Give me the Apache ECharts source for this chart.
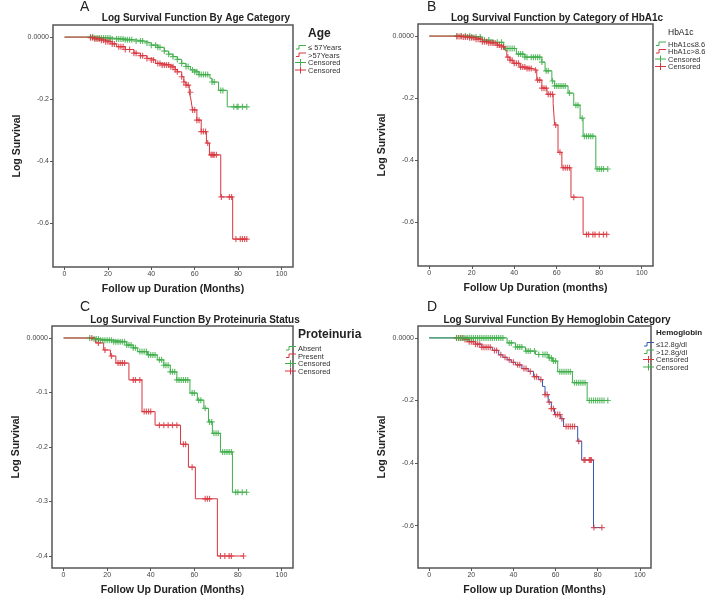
<!DOCTYPE html>
<html>
<head>
<meta charset="utf-8">
<script src="https://cdn.jsdelivr.net/npm/echarts@6/dist/echarts.min.js"></script>
<style>
  html, body { margin: 0; padding: 0; background: #fff; }
  #chart { width: 707px; height: 599px; }
</style>
</head>
<body>
<div id="chart"></div>
<script>
// step curves: [month, log survival after the drop]
const ageLow = [[0,0],[14,-0.003],[22,-0.006],[28,-0.009],[33,-0.013],[37,-0.019],[40,-0.026],[43,-0.033],[46,-0.045],[48,-0.055],[50,-0.063],[52,-0.072],[54,-0.085],[56,-0.095],[58,-0.106],[60,-0.112],[62,-0.121],[67,-0.133],[68,-0.145],[71,-0.172],[75,-0.225],[84,-0.225]];
const ageHigh = [[0,0],[12,-0.002],[14,-0.006],[17,-0.010],[19,-0.015],[22,-0.022],[24,-0.031],[28,-0.040],[32,-0.052],[35,-0.060],[38,-0.069],[40,-0.074],[42,-0.085],[45,-0.090],[49,-0.096],[51,-0.105],[52,-0.112],[54,-0.128],[55,-0.145],[56,-0.155],[57.5,-0.178],[58.3,-0.203],[59,-0.235],[61,-0.268],[63,-0.305],[65.4,-0.342],[66.8,-0.38],[72,-0.516],[77.5,-0.652],[84,-0.652]];
const ageLowCens = [12,13,14,15,16,17,18,19,20,21,22,24,25,26,27,28,29,30,31,33,35,36,38,40,42,43,44,46,48,50,52,54,56,57,59,60,61,62,63,64,65,66,68,69,72,73,78,79.5,80,82,84];
const ageHighCens = [12,13,14,15,16,17,18,19,20,21,22,23,25,26,27,28,30,32,33,35,36,38,40,41,43,44,45,46,47,48,49,50,51,52,54,55,56,57,58,59,60,61,62,63,64,65,66,67.5,68,68.5,69,70,72.3,76,77,79,81,82,83,84];

const hbaLow = [[0,0],[20,-0.003],[25,-0.013],[30,-0.020],[35,-0.040],[41,-0.058],[45,-0.068],[53,-0.084],[54.5,-0.112],[57.7,-0.145],[59,-0.161],[65.3,-0.184],[68,-0.223],[71,-0.265],[72.4,-0.323],[78.4,-0.429],[84,-0.429]];
const hbaHigh = [[0,0],[13,-0.001],[16,-0.003],[19,-0.005],[22,-0.010],[25,-0.018],[28,-0.022],[32,-0.029],[34,-0.035],[35.5,-0.045],[36.5,-0.068],[38,-0.078],[39.5,-0.088],[42.7,-0.100],[46,-0.105],[49,-0.110],[50.6,-0.142],[53,-0.168],[55.4,-0.188],[58.3,-0.217],[59,-0.287],[60.6,-0.375],[62.4,-0.425],[66.7,-0.52],[72.4,-0.64],[83.5,-0.64]];
const hbaLowCens = [13,15,17,19,20,22,24,26,28,30,32,34,36,37,38,39,40,42,43,44,45,46,48,49,50,51,52,53,55,56,58,59,60,61,62,63,64,66,69,70,72,73,74,75,76,77,79,80,81,82,84];
const hbaHighCens = [13,14,15,16,17,18,19,20,21,22,23,24,25,26,27,28,29,30,31,32,33,34,35,37,38,39,40,41,42,43,44,45,46,47,48,50,51,52,53,54,55,56,57,58,59.5,61.5,63,64,65,66,68,74,75,77,78,80,82,83.5];

const protAbsent = [[0,0],[14,-0.002],[17,-0.004],[23,-0.007],[29,-0.013],[32,-0.018],[34,-0.025],[38.5,-0.031],[43,-0.040],[46,-0.050],[49,-0.062],[52,-0.077],[58,-0.101],[61.4,-0.114],[64.4,-0.129],[66.5,-0.154],[68.3,-0.175],[72,-0.209],[77.5,-0.283],[84,-0.283]];
const protPresent = [[0,0],[14.7,-0.009],[18.4,-0.022],[21.5,-0.033],[24,-0.046],[30,-0.077],[36,-0.135],[42,-0.16],[53.7,-0.195],[57.3,-0.237],[60.5,-0.295],[70.6,-0.4],[82.6,-0.4]];
const protAbsentCens = [12,14,15,16,17,18,19,20,21,22,23,24,25,26,27,28,29,30,31,32,33,35,36,37,38,39,40,41,42,44,45,46,47,48,49,50,51,52,53,54,55,56,57,59,60,62,63,65,67,68,69,70,71,73,74,75,76,77,79,80,82,84];
const protPresentCens = [13,16,19,22,25,26,27,28,32,33,35,37,38,39,40,44,46,48,50,52,55,56,59,65,66,67,72,74,76,77,82.6];

const hbLow = [[0,0],[17,-0.005],[19,-0.012],[22,-0.02],[25,-0.03],[30,-0.04],[33,-0.054],[35,-0.062],[37,-0.07],[39,-0.078],[41,-0.086],[44,-0.098],[47,-0.107],[49.5,-0.124],[52,-0.133],[53.8,-0.155],[55,-0.181],[56.5,-0.205],[58,-0.226],[59.5,-0.245],[62.4,-0.258],[63.8,-0.283],[70.5,-0.33],[72.4,-0.39],[78,-0.606],[82,-0.606]];
const hbHigh = [[0,0],[37,-0.016],[41,-0.029],[45.7,-0.042],[50.5,-0.053],[56.7,-0.064],[58.6,-0.074],[61,-0.108],[68,-0.143],[75,-0.2],[84.8,-0.2]];
const hbLowCens = [13,14,15,16,17,18,19,20,21,22,23,24,25,26,27,28,29,31,32,34,36,38,40,42,43,45,46,48,50,51,53,55,56,57,58,59,60,61,62,63,65,66,67,68,69,71,73.5,74,76,76.5,77,78.2,82];
const hbHighCens = [13,14,15,16,17,18,19,20,21,22,23,24,25,26,27,28,29,30,31,32,33,34,35,38,39,41,42,43,44,46,47,48,50,52,54,55,56,57,58,59,60,62,63,64,65,66,67,69,70,71,72,73,74,76,77,78,79,80,81,82,83,84.8];

const xTicks = [0, 20, 40, 60, 80, 100];
const yTicksWide = [0, -0.2, -0.4, -0.6];
const yTicksNarrow = [0, -0.1, -0.2, -0.3, -0.4];

const GREEN = '#3fae4a';
const RED = '#d8353d';
const BLUE = '#3557b0';
const FONT = 'Liberation Sans';
const PLUS = 'path://M0,4H10V6H0Z M4,0H6V10H4Z';

// y of the step curve at time t
function stepAt(steps, t) {
    let v = steps[0][1];
    for (const p of steps) { if (p[0] <= t) v = p[1]; }
    return v;
}

const grids = [
    { left: 53, top: 25, width: 240, height: 242 },
    { left: 418, top: 24, width: 235, height: 242 },
    { left: 52, top: 326, width: 241, height: 242 },
    { left: 418, top: 326, width: 233, height: 242 }
];
const xNames = ['Follow up Duration (Months)', 'Follow Up Duration (months)', 'Follow Up Duration (Months)', 'Follow up Duration (Months)'];
const yRanges = [[-0.742, 0.039], [-0.742, 0.039], [-0.422, 0.022], [-0.735, 0.038]];
const yTicks = [yTicksWide, yTicksWide, yTicksNarrow, yTicksWide];

const xAxis = grids.map((g, i) => ({
    gridIndex: i, type: 'value', min: -5.3, max: 105.3, position: 'bottom',
    name: xNames[i], nameLocation: 'middle', nameGap: 17,
    nameTextStyle: { fontFamily: FONT, fontWeight: 'bold', fontSize: 10.5, color: '#222' },
    axisLine: { show: false, onZero: false },
    axisTick: { show: true, customValues: xTicks, length: 3, lineStyle: { color: '#555' } },
    axisLabel: { customValues: xTicks, fontSize: 7, color: '#444', fontFamily: FONT, margin: 4 },
    splitLine: { show: false }
}));
const yAxis = grids.map((g, i) => ({
    gridIndex: i, type: 'value', min: yRanges[i][0], max: yRanges[i][1], position: 'left',
    name: 'Log Survival', nameLocation: 'middle', nameGap: 30,
    nameTextStyle: { fontFamily: FONT, fontWeight: 'bold', fontSize: 10.5, color: '#222' },
    axisLine: { show: false, onZero: false },
    axisTick: { show: true, customValues: yTicks[i], length: 3, lineStyle: { color: '#555' } },
    axisLabel: {
        customValues: yTicks[i], fontSize: 7, color: '#444', fontFamily: FONT, margin: 4,
        formatter: v => (Math.abs(v) < 1e-9 ? '0.0000' : v.toFixed(1))
    },
    splitLine: { show: false }
}));

const panels = [
    { curves: [[ageLow, GREEN, ageLowCens, GREEN], [ageHigh, RED, ageHighCens, RED]] },
    { curves: [[hbaLow, GREEN, hbaLowCens, GREEN], [hbaHigh, RED, hbaHighCens, RED]] },
    { curves: [[protAbsent, GREEN, protAbsentCens, GREEN], [protPresent, RED, protPresentCens, RED]] },
    { curves: [[hbLow, BLUE, hbLowCens, RED], [hbHigh, GREEN, hbHighCens, GREEN]] }
];

const series = [];
panels.forEach((p, i) => {
    p.curves.forEach(c => {
        series.push({
            type: 'line', xAxisIndex: i, yAxisIndex: i, step: 'end',
            data: c[0], showSymbol: false, symbol: 'none',
            lineStyle: { color: c[1], width: 1 }, z: 2
        });
    });
    p.curves.forEach(c => {
        series.push({
            type: 'scatter', xAxisIndex: i, yAxisIndex: i,
            data: c[2].map(t => [t, stepAt(c[0], t)]),
            symbol: PLUS, symbolSize: 6,
            itemStyle: { color: c[3] }, z: 3
        });
    });
});

const titles = [
    { text: 'A', left: 80, top: 0 },
    { text: 'B', left: 427, top: 0 },
    { text: 'C', left: 80, top: 300 },
    { text: 'D', left: 427, top: 300 },
    { text: 'Log Survival Function By Age Category', left: 196, top: 13, bold: true },
    { text: 'Log Survival Function by Category of HbA1c', left: 557, top: 13, bold: true },
    { text: 'Log Survival Function By Proteinuria Status', left: 195, top: 315, bold: true },
    { text: 'Log Survival Function By Hemoglobin Category', left: 557, top: 315, bold: true }
].map(t => t.bold ? ({
    text: t.text, left: t.left, top: t.top, textAlign: 'center', padding: 0,
    textStyle: { fontFamily: FONT, fontWeight: 'bold', fontSize: 10, color: '#222' }
}) : ({
    text: t.text, left: t.left, top: t.top, padding: 0,
    textStyle: { fontFamily: FONT, fontWeight: 'normal', fontSize: 14, color: '#222' }
}));

// legends drawn as graphics
function legend(x, y, title, titleSize, titleBold, rows) {
    const children = [{
        type: 'text', left: 0, top: 0,
        style: { text: title, fontFamily: FONT, fontSize: titleSize, fontWeight: titleBold ? 'bold' : 'normal', fill: '#222' }
    }];
    const y0 = titleSize + 4;
    rows.forEach((r, k) => {
        const ry = y0 + k * 7.5;
        if (r.kind === 'line') {
            children.push({
                type: 'polyline', shape: { points: [[-12, ry + 5], [-9, ry + 5], [-9, ry + 1.5], [-2, ry + 1.5]] },
                style: { stroke: r.color, lineWidth: 1, fill: null }
            });
        } else {
            children.push({ type: 'line', shape: { x1: -13, y1: ry + 3.5, x2: -2, y2: ry + 3.5 }, style: { stroke: r.color, lineWidth: 1 } });
            children.push({ type: 'line', shape: { x1: -7.5, y1: ry, x2: -7.5, y2: ry + 7 }, style: { stroke: r.color, lineWidth: 1 } });
        }
        children.push({
            type: 'text', x: 0, y: ry,
            style: { text: r.text, fontFamily: FONT, fontSize: 7.5, fill: '#333' }
        });
    });
    return { type: 'group', x: x, y: y, children: children };
}

const graphic = [
    legend(308, 28, 'Age', 12, true, [
        { kind: 'line', color: GREEN, text: '≤ 57Years' },
        { kind: 'line', color: RED, text: '>57Years' },
        { kind: 'cens', color: GREEN, text: 'Censored' },
        { kind: 'cens', color: RED, text: 'Censored' }
    ]),
    legend(668, 28, 'HbA1c', 8.5, false, [
        { kind: 'line', color: GREEN, text: 'HbA1c≤8.6' },
        { kind: 'line', color: RED, text: 'HbA1c>8.6' },
        { kind: 'cens', color: GREEN, text: 'Censored' },
        { kind: 'cens', color: RED, text: 'Censored' }
    ]),
    legend(298, 329, 'Proteinuria', 12, true, [
        { kind: 'line', color: GREEN, text: 'Absent' },
        { kind: 'line', color: RED, text: 'Present' },
        { kind: 'cens', color: GREEN, text: 'Censored' },
        { kind: 'cens', color: RED, text: 'Censored' }
    ]),
    legend(656, 329, 'Hemoglobin', 8, true, [
        { kind: 'line', color: BLUE, text: '≤12.8g/dl' },
        { kind: 'line', color: GREEN, text: '>12.8g/dl' },
        { kind: 'cens', color: RED, text: 'Censored' },
        { kind: 'cens', color: GREEN, text: 'Censored' }
    ])
];

const chart = echarts.init(document.getElementById('chart'));
chart.setOption({
    animation: false,
    backgroundColor: '#fff',
    title: titles,
    grid: grids.map(g => Object.assign({ show: true, borderColor: '#555', borderWidth: 1.5, backgroundColor: '#fff' }, g)),
    xAxis: xAxis,
    yAxis: yAxis,
    series: series,
    graphic: graphic
});
</script>
</body>
</html>
